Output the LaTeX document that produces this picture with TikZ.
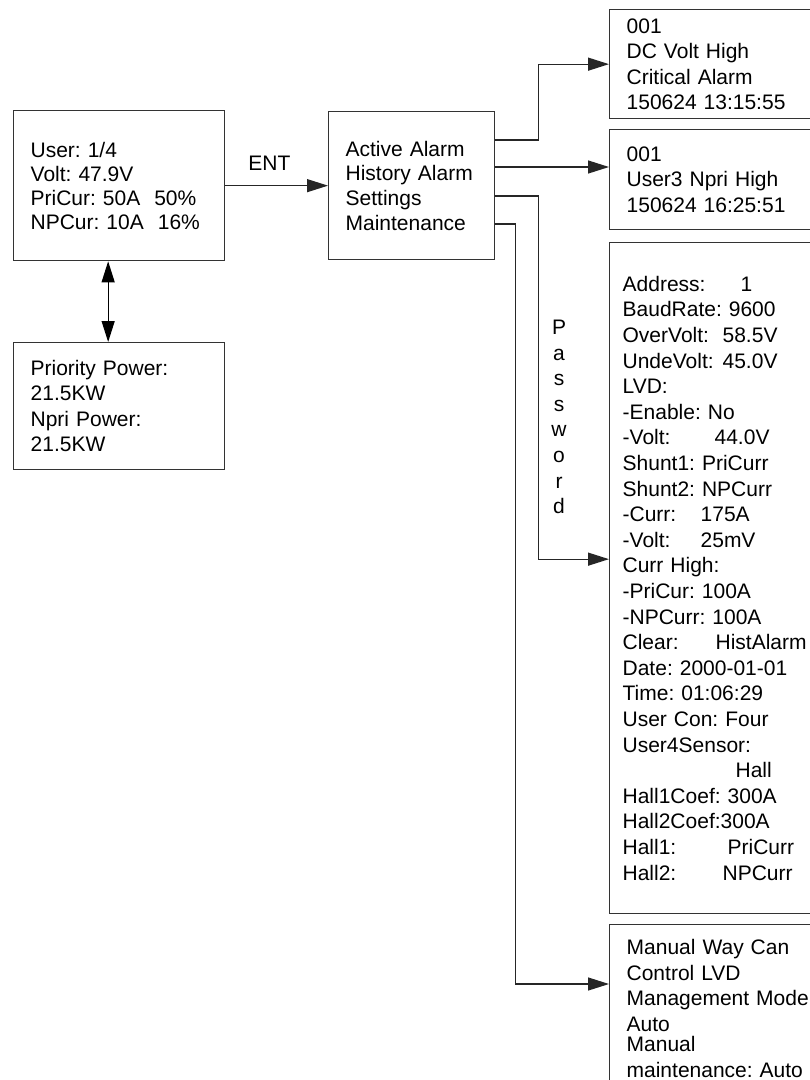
\documentclass[tikz,border=0pt]{standalone}
\usepackage{fontspec}
\setmainfont{Liberation Sans}
\usetikzlibrary{arrows.meta}

\newcommand{\fieldcol}[2]{\makebox[#1pt][l]{#2}}

\begin{document}
\frenchspacing
\begin{tikzpicture}
        [x=1pt, y=-1pt, font=\fontsize{21}{25.5}\selectfont,
        panel/.style={draw, line width=1.3pt, black!80, text=black, anchor=north west,
            align=left, inner xsep=17pt},
        link/.style={line width=1.3pt, black!85, -{Triangle[length=21pt, width=13pt]}},
        both/.style={line width=1.2pt, black,
            {Triangle[length=21pt, width=13pt]}-{Triangle[length=21pt, width=13pt]}}]

        \useasboundingbox (0,0) rectangle (810,1080);
        \clip (0,0) rectangle (810,1080);

        \node[panel, minimum width=211pt, minimum height=150pt, text width=177pt,
            font=\fontsize{21}{24}\selectfont] (user) at (13,110)
            {User: 1/4\\Volt: 47.9V\\PriCur: 50A\ \ 50\%\\NPCur: 10A\ \ 16\%};
        \node[panel, minimum width=211pt, minimum height=127pt, text width=177pt] (power) at (13,342)
            {Priority Power:\\21.5KW\\Npri Power:\\21.5KW};
        \node[panel, minimum width=166pt, minimum height=148pt, text width=132pt,
            font=\fontsize{21}{24.7}\selectfont] (menu) at (328,111)
            {Active Alarm\\History Alarm\\Settings\\Maintenance};

        \node[panel, minimum width=240pt, minimum height=109pt, text width=206pt] (active) at (609,9)
            {001\\DC Volt High\\Critical Alarm\\150624 13:15:55};
        \node[panel, minimum width=240pt, minimum height=100pt, text width=206pt] (history) at (609,129)
            {001\\User3 Npri High\\150624 16:25:51};
        \node[panel, minimum width=240pt, minimum height=671pt, text width=214pt, inner xsep=13pt,
            font=\fontsize{21}{25.6}\selectfont] (settings) at (609,242)
            {\fieldcol{118}{Address:}1\\
             BaudRate: 9600\\
             \fieldcol{100}{OverVolt:}58.5V\\
             \fieldcol{100}{UndeVolt:}45.0V\\
             LVD:\\
             -Enable: No\\
             \fieldcol{92}{-Volt:}44.0V\\
             Shunt1: PriCurr\\
             Shunt2: NPCurr\\
             \fieldcol{78}{-Curr:}175A\\
             \fieldcol{78}{-Volt:}25mV\\
             Curr High:\\
             -PriCur: 100A\\
             -NPCurr: 100A\\
             \fieldcol{93}{Clear:}HistAlarm\\
             Date: 2000-01-01\\
             Time: 01:06:29\\
             User Con: Four\\
             User4Sensor:\\
             \fieldcol{113}{}Hall\\
             Hall1Coef: 300A\\
             Hall2Coef:300A\\
             \fieldcol{105}{Hall1:}PriCurr\\
             \fieldcol{100}{Hall2:}NPCurr};
        \node[panel, minimum width=240pt, text width=206pt, inner ysep=15pt] (maint) at (609,924)
            {Manual Way Can\\Control LVD\\Management Mode\\Auto\\[-5pt]Manual\\maintenance: Auto};

        \node[align=center, font=\fontsize{21}{25.6}\selectfont] (pwd) at (559,417)
            {P\\a\\s\\s\\w\\o\\r\\d};

        \draw[link] (user) -- (menu) node[pos=0.43, above=11pt, text=black] {ENT};
        \draw[both] ([xshift=-11pt]user.south) -- ([xshift=-11pt]power.north);

        \draw[link] (menu.east |- 0,140) -- ++(43,0) |- (active.west);
        \draw[link] (menu.east |- 0,167) -- (history.west |- 0,167);
        \draw[link] (menu.east |- 0,196) -- ++(43,0) |- ([yshift=19pt]settings.west);
        \draw[link] (menu.east |- 0,224) -- ++(20,0) |- ([yshift=-60pt]maint.north west);

    \end{tikzpicture}
\end{document}
